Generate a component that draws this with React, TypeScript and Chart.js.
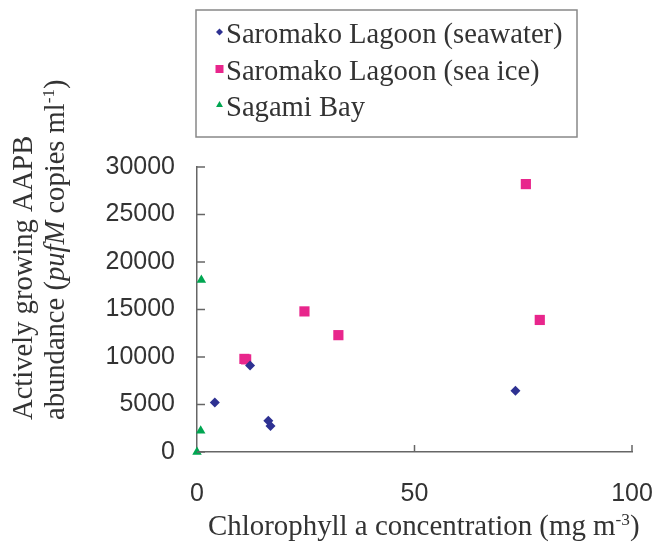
import React, { useEffect, useRef } from "react";
import { Chart, registerables } from "chart.js";

Chart.register(...registerables);

// ---- Data ----
const seawaterX = [4.1, 12.2, 16.4, 16.9, 73.2];
const seawaterY = [5200, 9100, 3300, 2750, 6450];
const seaIceX = [10.9, 11.3, 24.7, 32.5, 75.6, 78.8];
const seaIceY = [9800, 9750, 14800, 12300, 28200, 13900];
const sagamiX = [0, 0.85, 1.0];
const sagamiY = [0, 2250, 18100];

const seriesNames = ["Saromako Lagoon (seawater)", "Saromako Lagoon (sea ice)", "Sagami Bay"];
const xTitle = "Chlorophyll a concentration (mg m";
const yTitleLine1 = "Actively growing AAPB";

const NAVY = "#2E3192";
const PINK = "#E8268C";
const GREEN = "#00A651";
const TEXT = "#333333";
const AXIS = "#666666";

const serif = '"Liberation Serif", "Times New Roman", serif';
const sans = '"Liberation Sans", Arial, sans-serif';
const FS = 28.6;

type Run = { text: string; italic?: boolean; sup?: boolean };

function drawRuns(ctx: CanvasRenderingContext2D, runs: Run[], x: number, y: number, size: number) {
  let cx = x;
  for (const r of runs) {
    const fs = r.sup ? size * 0.6 : size;
    ctx.font = `${r.italic ? "italic " : ""}${fs}px ${serif}`;
    const dy = r.sup ? -size * 0.36 : 0;
    ctx.fillText(r.text, cx, y + dy);
    cx += ctx.measureText(r.text).width;
  }
}

function marker(ctx: CanvasRenderingContext2D, style: string, x: number, y: number, r: number, color: string) {
  ctx.fillStyle = color;
  ctx.beginPath();
  if (style === "rectRot") {
    ctx.moveTo(x, y - r);
    ctx.lineTo(x + r, y);
    ctx.lineTo(x, y + r);
    ctx.lineTo(x - r, y);
  } else if (style === "rect") {
    ctx.rect(x - r, y - r, 2 * r, 2 * r);
  } else {
    ctx.moveTo(x, y - r);
    ctx.lineTo(x + r * 0.866, y + r * 0.5);
    ctx.lineTo(x - r * 0.866, y + r * 0.5);
  }
  ctx.closePath();
  ctx.fill();
}

const decorPlugin = {
  id: "decor",
  afterDraw(chart: any) {
    const ctx: CanvasRenderingContext2D = chart.ctx;
    const xs = chart.scales.x;
    const ys = chart.scales.y;
    const area = chart.chartArea;
    ctx.save();
    // inside tick marks
    ctx.strokeStyle = AXIS;
    ctx.lineWidth = 1.5;
    ys.ticks.forEach((t: any) => {
      const py = ys.getPixelForValue(t.value);
      ctx.beginPath();
      ctx.moveTo(area.left, py);
      ctx.lineTo(area.left + 8, py);
      ctx.stroke();
    });
    xs.ticks.forEach((t: any) => {
      if (t.value === 0) return;
      const px = xs.getPixelForValue(t.value);
      ctx.beginPath();
      ctx.moveTo(px, area.bottom);
      ctx.lineTo(px, area.bottom - 7);
      ctx.stroke();
    });

    // legend box
    ctx.strokeStyle = "#888888";
    ctx.lineWidth = 1.5;
    ctx.strokeRect(196, 10, 381, 127);
    const styles = ["rectRot", "rect", "triangle"];
    const colors = [NAVY, PINK, GREEN];
    const sizes = [3.5, 4, 4];
    const baselines = [43, 80, 116];
    ctx.textBaseline = "alphabetic";
    ctx.textAlign = "left";
    seriesNames.forEach((name, i) => {
      marker(ctx, styles[i], 219.5, baselines[i] - 11, sizes[i], colors[i]);
      ctx.fillStyle = TEXT;
      ctx.font = `${FS}px ${serif}`;
      ctx.fillText(name, 226, baselines[i]);
    });

    // x title
    ctx.fillStyle = TEXT;
    drawRuns(ctx, [{ text: xTitle }, { text: "-3", sup: true }, { text: ")" }], 208, 535, 28.9);

    // y title
    ctx.save();
    ctx.translate(32, 420);
    ctx.rotate(-Math.PI / 2);
    drawRuns(ctx, [{ text: yTitleLine1 }], 0, 0, FS);
    ctx.restore();
    ctx.save();
    ctx.translate(64, 420);
    ctx.rotate(-Math.PI / 2);
    drawRuns(
      ctx,
      [
        { text: "abundance (" },
        { text: "pufM", italic: true },
        { text: " copies ml" },
        { text: "-1", sup: true },
        { text: ")" },
      ],
      0,
      0,
      FS
    );
    ctx.restore();
    ctx.restore();
  },
};

function pts(xs: number[], ys: number[]) {
  return xs.map((x, i) => ({ x, y: ys[i] }));
}

export default function App() {
  const ref = useRef<HTMLCanvasElement | null>(null);
  useEffect(() => {
    if (!ref.current) return;
    const chart = new Chart(ref.current, {
      type: "scatter",
      data: {
        datasets: [
          {
            label: seriesNames[0],
            data: pts(seawaterX, seawaterY),
            pointStyle: "rectRot",
            pointRadius: 5,
            backgroundColor: NAVY,
            borderColor: NAVY,
            borderWidth: 0,
            clip: false,
          },
          {
            label: seriesNames[1],
            data: pts(seaIceX, seaIceY),
            pointStyle: "rect",
            pointRadius: 7.2,
            backgroundColor: PINK,
            borderColor: PINK,
            borderWidth: 0,
            clip: false,
          },
          {
            label: seriesNames[2],
            data: pts(sagamiX, sagamiY),
            pointStyle: "triangle",
            pointRadius: 5.5,
            backgroundColor: GREEN,
            borderColor: GREEN,
            borderWidth: 0,
            clip: false,
          },
        ] as any,
      },
      options: {
        animation: false,
        responsive: true,
        maintainAspectRatio: false,
        layout: { padding: { top: 167, right: 22, left: 0, bottom: 0 } },
        plugins: { legend: { display: false }, tooltip: { enabled: false } },
        scales: {
          x: {
            type: "linear",
            min: 0,
            max: 100,
            ticks: { stepSize: 50, color: TEXT, font: { family: sans, size: 25 }, padding: 27, maxRotation: 0 },
            grid: { display: true, drawOnChartArea: false, drawTicks: false },
            border: { display: true, color: AXIS, width: 1.5 },
            afterFit: (s: any) => {
              s.height = 97;
              s.paddingLeft = 0;
              s.paddingRight = 0;
            },
          },
          y: {
            type: "linear",
            min: 0,
            max: 30000,
            ticks: {
              stepSize: 5000,
              color: TEXT,
              font: { family: sans, size: 25 },
              padding: 22,
              callback: (v: any) => String(v),
            },
            grid: { display: true, drawOnChartArea: false, drawTicks: false },
            border: { display: true, color: AXIS, width: 1.5 },
            afterFit: (s: any) => {
              s.width = 197;
              s.paddingTop = 0;
              s.paddingBottom = 0;
            },
          },
        },
      } as any,
      plugins: [decorPlugin],
    });
    return () => chart.destroy();
  }, []);
  return (
    <div style={{ position: "absolute", left: 0, top: 0, width: 654, height: 549, background: "#fff" }}>
      <canvas ref={ref} />
    </div>
  );
}
